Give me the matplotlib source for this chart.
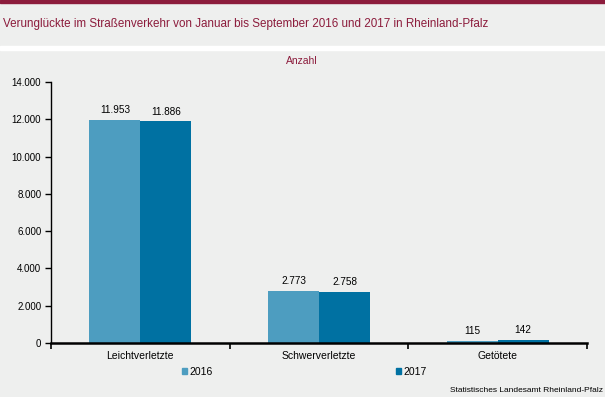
import matplotlib.pyplot as plt
from matplotlib.patches import Rectangle, Patch

plt.rcParams['font.family'] = ['Liberation Sans', 'DejaVu Sans']

# data
categories = ['Leichtverletzte', 'Schwerverletzte', 'Getötete']
years = ['2016', '2017']
values_2016 = [11953, 2773, 115]
values_2017 = [11886, 2758, 142]
yticks = [0, 2000, 4000, 6000, 8000, 10000, 12000, 14000]

col_2016 = '#4d9dc0'
col_2017 = '#0071a2'
bg = '#eeefee'
red = '#8c1c3c'


def fmt(v):
    return f'{v:,}'.replace(',', '.')


fig = plt.figure(figsize=(6.05, 3.97), dpi=100, facecolor=bg)

# header: dark red top line and white separator stripe
H = 397.0
fig.patches.append(Rectangle((0, 1 - 2.5 / H), 1, 2.5 / H, transform=fig.transFigure,
                             color=red, zorder=0))
fig.patches.append(Rectangle((0, 1 - 50 / H), 1, 4 / H, transform=fig.transFigure,
                             color='white', zorder=0))
fig.text(3 / 605, 1 - 24 / H, 'Verunglückte im Straßenverkehr von Januar bis September 2016 und 2017 in Rheinland-Pfalz',
         color=red, fontsize=8.4, ha='left', va='center')
fig.text(302 / 605, 1 - 60.5 / H, 'Anzahl', color=red, fontsize=7.5, ha='center', va='center')

ax = fig.add_axes([51 / 605, 1 - 343 / H, 536 / 605, 261 / H])
ax.set_facecolor(bg)

x = list(range(len(categories)))
w = 0.285
b1 = ax.bar([i - w / 2 for i in x], values_2016, width=w, color=col_2016, label='2016')
b2 = ax.bar([i + w / 2 for i in x], values_2017, width=w, color=col_2017, label='2017')

for bars, vals in ((b1, values_2016), (b2, values_2017)):
    for r, v in zip(bars, vals):
        ax.annotate(fmt(v), (r.get_x() + r.get_width() / 2, v), xytext=(0, 3.5),
                    textcoords='offset points', ha='center', va='bottom', fontsize=7.2)

ax.set_xlim(-0.5, len(categories) - 0.5)
ax.set_ylim(0, 14000)
ax.set_yticks(yticks)
ax.set_yticklabels([fmt(t) for t in yticks], fontsize=7)
ax.set_xticks(x)
ax.set_xticklabels(categories, fontsize=7.5)
ax.set_xticks([i - 0.5 for i in range(len(categories) + 1)], minor=True)
ax.tick_params(axis='x', which='major', length=0, pad=6)
ax.tick_params(axis='x', which='minor', length=4, width=1.2, direction='out')
ax.tick_params(axis='y', length=4, width=1, direction='out', pad=3)

for s in ('top', 'right'):
    ax.spines[s].set_visible(False)
ax.spines['left'].set_linewidth(1)
ax.spines['bottom'].set_linewidth(1.8)

handles = [Patch(color=col_2016, label='2016'), Patch(color=col_2017, label='2017')]
fig.legend(handles=handles, loc='center', bbox_to_anchor=(304 / 605, 1 - 372 / H), ncol=2,
           frameon=False, fontsize=7.5, handlelength=0.5, handleheight=0.5,
           handletextpad=0.2, columnspacing=17.6, borderpad=0)

fig.text(603 / 605, 1 - 390 / H, 'Statistisches Landesamt Rheinland-Pfalz', fontsize=6,
         ha='right', va='center')

fig.savefig('out.png', dpi=100, facecolor=bg)
